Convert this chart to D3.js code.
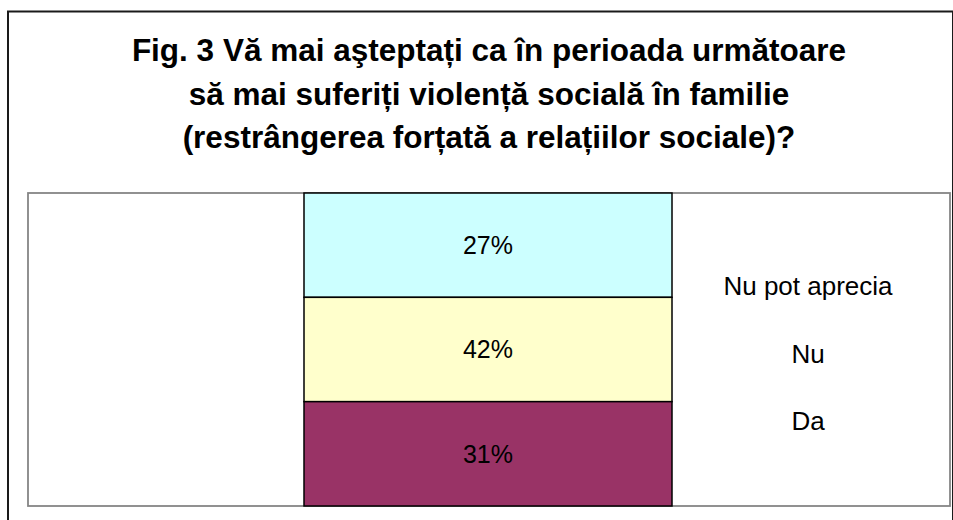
<!DOCTYPE html>
<html>
<head>
<meta charset="utf-8">
<script src="https://cdn.jsdelivr.net/npm/d3@7"></script>
<style>
  html, body { margin: 0; padding: 0; background: #fff; }
  svg { display: block; }
  text { font-family: Arial, "Liberation Sans", sans-serif; }
</style>
</head>
<body>
<svg id="chart" width="953" height="520"></svg>
<script>
// ---- data ----
const titleLines = [
  "Fig. 3 Vă mai aşteptați ca în perioada următoare",
  "să mai suferiți violență socială în familie",
  "(restrângerea forțată a relațiilor sociale)?"
];
const categories = ["Nu pot aprecia", "Nu", "Da"];   // top to bottom
const values = [27, 42, 31];                            // percent
const colors = ["#CCFFFF", "#FFFFCC", "#993366"];
const legendLabels = ["Nu pot aprecia", "Nu", "Da"];

// ---- layout ----
const plot = { x0: 28, x1: 950, y0: 193, y1: 506 };
const bar = { x0: 304, x1: 672 };

const svg = d3.select("#chart");

// outer chart border
svg.append("rect")
  .attr("x", 8).attr("y", 11.5)
  .attr("width", 945).attr("height", 520)
  .attr("fill", "#fff").attr("stroke", "#1a1a1a").attr("stroke-width", 2);

// title
const title = svg.append("text")
  .attr("text-anchor", "middle")
  .attr("font-weight", "bold")
  .attr("font-size", 31.5)
  .attr("fill", "#000");
titleLines.forEach((t, i) => {
  title.append("tspan").attr("x", 489).attr("y", 61 + i * 43.5).text(t);
});

// plot area box
svg.append("rect")
  .attr("x", plot.x0).attr("y", plot.y0)
  .attr("width", plot.x1 - plot.x0).attr("height", plot.y1 - plot.y0)
  .attr("fill", "#fff").attr("stroke", "#858585").attr("stroke-width", 1.8);

// scales
const y = d3.scaleBand().domain(categories).range([plot.y0, plot.y1]).padding(0);
const x = d3.scaleBand().domain(["bar"]).range([bar.x0, bar.x1]).padding(0);

const segs = svg.append("g").selectAll("g")
  .data(categories.map((c, i) => ({ c, v: values[i], col: colors[i] })))
  .join("g");

segs.append("rect")
  .attr("x", x("bar"))
  .attr("y", d => y(d.c))
  .attr("width", x.bandwidth())
  .attr("height", y.bandwidth())
  .attr("fill", d => d.col)
  .attr("stroke", "#000")
  .attr("stroke-width", 1.5);

segs.append("text")
  .attr("x", x("bar") + x.bandwidth() / 2)
  .attr("y", d => y(d.c) + y.bandwidth() / 2)
  .attr("dy", "0.35em")
  .attr("text-anchor", "middle")
  .attr("font-size", 25)
  .attr("fill", "#000")
  .text(d => d.v + "%");

// legend (text only)
const ly = d3.scalePoint().domain(legendLabels).range([295, 430]);
svg.append("g").selectAll("text")
  .data(legendLabels)
  .join("text")
  .attr("x", 808)
  .attr("y", d => ly(d))
  .attr("text-anchor", "middle")
  .attr("font-size", 26)
  .attr("fill", "#000")
  .text(d => d);
</script>
</body>
</html>
